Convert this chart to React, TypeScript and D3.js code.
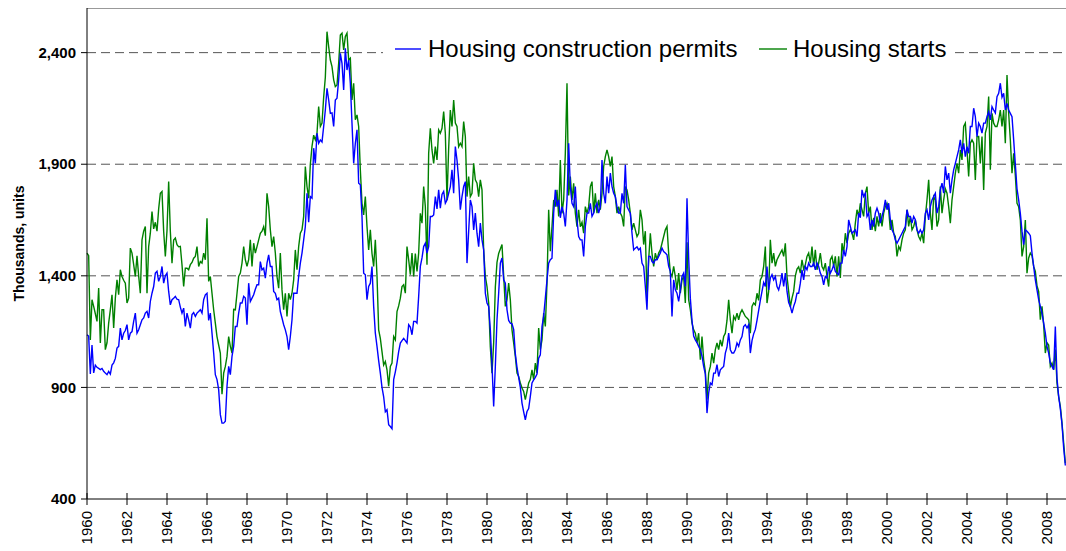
import React from 'react';
import * as d3 from 'd3';

// Monthly values, Jan 1960 .. Dec 2008, thousands of units (SAAR)
const permits: number[] = [
  1136, 1130, 960, 1090, 965, 1000, 990, 985, 980, 985, 972, 964, // 1960
  957, 972, 960, 1000, 1010, 1030, 1076, 1084, 1166, 1113, 1143, 1155,
  1181, 1113, 1143, 1150, 1196, 1233, 1143, 1158, 1181, 1203, 1211, 1233,
  1241, 1211, 1285, 1322, 1352, 1412, 1420, 1375, 1397, 1442, 1367, 1400,
  1412, 1330, 1270, 1293, 1300, 1308, 1295, 1293, 1260, 1233, 1255, 1173,
  1233, 1203, 1166, 1226, 1235, 1218, 1233, 1240, 1248, 1233, 1293, 1315, // 1965
  1322, 1200, 1233, 1143, 1054, 957, 935, 890, 778, 740, 740, 748,
  905, 994, 957, 1039, 1084, 1173, 1173, 1233, 1278, 1278, 1308, 1300,
  1181, 1367, 1285, 1300, 1315, 1340, 1360, 1360, 1464, 1427, 1434, 1390,
  1457, 1494, 1442, 1442, 1330, 1322, 1293, 1300, 1240, 1211, 1181, 1158,
  1128, 1069, 1128, 1203, 1322, 1322, 1322, 1397, 1457, 1502, 1561, 1621, // 1970
  1770, 1640, 1755, 1748, 1972, 1904, 2039, 1994, 2009, 2000, 2069, 2143,
  2240, 2188, 2128, 2130, 2069, 2188, 2196, 2278, 2397, 2352, 2233, 2419,
  2322, 2367, 2263, 2084, 1904, 1994, 2054, 1815, 1808, 1666, 1412, 1405,
  1293, 1352, 1367, 1442, 1263, 1143, 1084, 1020, 964, 900, 858, 791,
  800, 733, 725, 715, 935, 970, 1010, 1060, 1099, 1110, 1120, 1110, // 1975
  1099, 1181, 1170, 1136, 1196, 1196, 1188, 1308, 1442, 1480, 1531, 1546,
  1502, 1531, 1666, 1666, 1673, 1755, 1700, 1785, 1703, 1765, 1778, 1725,
  1740, 1770, 1800, 1875, 1770, 1979, 1919, 1830, 1696, 1755, 1800, 1822,
  1457, 1600, 1740, 1710, 1606, 1681, 1591, 1531, 1636, 1561, 1517, 1322,
  1278, 1263, 1158, 1000, 815, 994, 1203, 1322, 1457, 1480, 1382, 1367, // 1980
  1248, 1200, 1188, 1185, 1160, 1050, 990, 945, 900, 830, 790, 755,
  792, 805, 860, 920, 934, 945, 960, 1031, 1046, 1173, 1220, 1300,
  1382, 1457, 1472, 1479, 1681, 1785, 1710, 1740, 1660, 1710, 1681, 1621,
  1740, 1994, 1800, 1725, 1710, 1800, 1650, 1576, 1561, 1561, 1487, 1621,
  1681, 1681, 1725, 1666, 1681, 1710, 1725, 1681, 1710, 1919, 1770, 1725, // 1985
  1845, 1770, 1860, 1800, 1770, 1755, 1710, 1681, 1681, 1770, 1725, 1897,
  1710, 1695, 1681, 1591, 1516, 1524, 1530, 1516, 1524, 1457, 1442, 1352,
  1248, 1487, 1487, 1464, 1457, 1472, 1472, 1487, 1502, 1524, 1509, 1502,
  1494, 1442, 1420, 1218, 1382, 1337, 1322, 1285, 1337, 1397, 1412, 1352,
  1748, 1480, 1300, 1200, 1130, 1113, 1100, 1084, 1070, 1040, 994, 960, // 1990
  785, 875, 920, 912, 964, 964, 1002, 949, 979, 987, 994, 1054,
  1080, 1143, 1069, 1054, 1054, 1069, 1099, 1084, 1113, 1128, 1173, 1181,
  1166, 1181, 1054, 1110, 1140, 1160, 1200, 1245, 1290, 1330, 1370, 1352,
  1442, 1337, 1390, 1405, 1382, 1397, 1352, 1337, 1367, 1412, 1352, 1412,
  1330, 1280, 1263, 1233, 1263, 1285, 1322, 1322, 1367, 1427, 1382, 1442, // 1995
  1427, 1457, 1442, 1442, 1457, 1427, 1457, 1442, 1412, 1397, 1360, 1397,
  1390, 1442, 1412, 1427, 1449, 1420, 1412, 1405, 1457, 1457, 1516, 1487,
  1531, 1651, 1621, 1591, 1599, 1606, 1576, 1681, 1660, 1785, 1755, 1770,
  1666, 1681, 1606, 1651, 1621, 1681, 1703, 1681, 1636, 1666, 1696, 1740,
  1696, 1725, 1651, 1606, 1591, 1561, 1546, 1561, 1576, 1591, 1606, 1621, // 2000
  1696, 1666, 1666, 1636, 1666, 1651, 1606, 1591, 1606, 1591, 1606, 1681,
  1696, 1651, 1710, 1740, 1755, 1770, 1681, 1710, 1785, 1815, 1770, 1890,
  1830, 1860, 1770, 1830, 1875, 1904, 1934, 1964, 2009, 1949, 1994, 1934,
  1979, 1949, 2069, 2069, 2151, 2113, 2024, 2084, 2069, 2039, 2084, 2084,
  2113, 2135, 2099, 2158, 2143, 2130, 2203, 2218, 2263, 2200, 2218, 2143, // 2005
  2173, 2143, 2128, 2113, 2009, 1900, 1790, 1740, 1680, 1600, 1540, 1606,
  1600, 1591, 1580, 1502, 1442, 1382, 1337, 1293, 1263, 1233, 1188, 1143,
  1084, 1054, 1009, 994, 979, 1173, 940, 860, 805, 735, 630, 550,
];

const starts: number[] = [
  1502, 1490, 1113, 1293, 1263, 1230, 1196, 1345, 1099, 1248, 1248, 1069, // 1960
  1100, 1188, 1248, 1315, 1166, 1300, 1382, 1315, 1427, 1397, 1380, 1367,
  1278, 1300, 1524, 1502, 1450, 1397, 1490, 1400, 1322, 1561, 1600, 1621,
  1322, 1531, 1591, 1688, 1610, 1640, 1600, 1700, 1770, 1778, 1600, 1487,
  1603, 1822, 1600, 1457, 1560, 1569, 1540, 1530, 1532, 1449, 1352, 1434,
  1434, 1427, 1450, 1460, 1479, 1487, 1531, 1442, 1464, 1457, 1502, 1472, // 1965
  1658, 1375, 1397, 1322, 1248, 1188, 1128, 1090, 1054, 870, 964, 994,
  1039, 1128, 1084, 1054, 1250, 1248, 1322, 1397, 1412, 1457, 1531, 1472,
  1442, 1472, 1561, 1442, 1546, 1502, 1531, 1561, 1590, 1600, 1620, 1580,
  1770, 1710, 1606, 1531, 1576, 1502, 1397, 1345, 1502, 1337, 1248, 1322,
  1218, 1322, 1293, 1322, 1382, 1516, 1427, 1531, 1591, 1606, 1666, 1890, // 1970
  1800, 1748, 1900, 1980, 2030, 2009, 2039, 2158, 2069, 2084, 2200, 2290,
  2494, 2427, 2367, 2337, 2278, 2248, 2255, 2352, 2479, 2487, 2412, 2472,
  2487, 2367, 2375, 2188, 2263, 2099, 2121, 2069, 1875, 1725, 1673, 1755,
  1621, 1516, 1606, 1500, 1442, 1561, 1400, 1158, 1120, 1060, 1000, 1016,
  979, 905, 994, 1009, 1128, 1113, 1240, 1265, 1300, 1352, 1360, 1322, // 1975
  1531, 1472, 1405, 1502, 1397, 1500, 1420, 1502, 1680, 1636, 1800, 1710,
  1450, 1949, 2061, 1964, 1904, 1979, 1919, 2054, 2039, 2061, 2136, 2039,
  1740, 1972, 2143, 2069, 2188, 2084, 2069, 1979, 1994, 1979, 2091, 2024,
  1755, 1845, 1755, 1770, 1904, 1830, 1815, 1755, 1830, 1785, 1516, 1397,
  1352, 1278, 1080, 964, 1100, 1350, 1460, 1500, 1520, 1540, 1400, 1263, // 1980
  1293, 1367, 1293, 1158, 1099, 1039, 964, 949, 920, 897, 882, 845,
  882, 920, 935, 979, 935, 1009, 964, 1166, 1069, 1113, 1233, 1173,
  1367, 1696, 1510, 1621, 1740, 1710, 1785, 1666, 1919, 1680, 1740, 1950,
  2263, 1760, 1845, 1740, 1815, 1681, 1620, 1696, 1620, 1640, 1591, 1710,
  1681, 1710, 1800, 1822, 1681, 1770, 1681, 1740, 1696, 1770, 1890, 1934, // 1985
  1964, 1934, 1890, 1934, 1800, 1755, 1681, 1710, 1681, 1666, 1621, 1800,
  1785, 1740, 1681, 1606, 1636, 1606, 1576, 1591, 1696, 1651, 1540, 1600,
  1293, 1472, 1591, 1500, 1442, 1502, 1472, 1502, 1516, 1546, 1576, 1606,
  1621, 1500, 1412, 1397, 1442, 1397, 1337, 1412, 1322, 1382, 1397, 1278,
  1550, 1293, 1248, 1188, 1158, 1143, 1099, 1143, 1024, 1128, 1024, 972, // 1990
  845, 964, 994, 1054, 1009, 1069, 1099, 1069, 1113, 1084, 1128, 1143,
  1200, 1293, 1203, 1143, 1218, 1203, 1233, 1203, 1233, 1248, 1233, 1218,
  1211, 1203, 1143, 1263, 1278, 1270, 1322, 1290, 1382, 1397, 1442, 1531,
  1278, 1330, 1561, 1457, 1502, 1442, 1472, 1487, 1502, 1516, 1487, 1546,
  1397, 1330, 1260, 1300, 1330, 1400, 1430, 1440, 1412, 1472, 1430, 1450, // 1995
  1487, 1502, 1457, 1531, 1442, 1516, 1427, 1457, 1502, 1442, 1427, 1457,
  1397, 1352, 1472, 1487, 1442, 1487, 1397, 1487, 1390, 1546, 1502, 1591,
  1546, 1591, 1606, 1591, 1561, 1636, 1696, 1666, 1725, 1696, 1666, 1770,
  1800, 1681, 1710, 1606, 1660, 1600, 1666, 1621, 1681, 1621, 1681, 1710,
  1725, 1696, 1606, 1651, 1591, 1576, 1487, 1531, 1516, 1561, 1591, 1606, // 2000
  1696, 1621, 1666, 1606, 1621, 1651, 1606, 1576, 1561, 1591, 1546, 1666,
  1740, 1830, 1681, 1606, 1755, 1740, 1621, 1651, 1800, 1681, 1740, 1790,
  1770, 1710, 1636, 1740, 1800, 1860, 1904, 1860, 1964, 1919, 2069, 2084,
  1964, 1845, 1994, 2009, 1994, 1830, 2024, 2024, 1904, 2024, 1785, 2040,
  2069, 2203, 1875, 2128, 2084, 2069, 2069, 2099, 2143, 2069, 2143, 1994, // 2005
  2300, 2128, 2009, 1860, 1949, 1850, 1725, 1710, 1651, 1487, 1531, 1650,
  1412, 1480, 1502, 1490, 1442, 1420, 1355, 1330, 1203, 1263, 1180, 1054,
  1100, 1090, 994, 1009, 979, 1070, 920, 858, 815, 740, 651, 560,
];

const yTicks = [400, 900, 1400, 1900, 2400];
const xTickLabels = [
  '1960', '1962', '1964', '1966', '1968', '1970', '1972', '1974', '1976',
  '1978', '1980', '1982', '1984', '1986', '1988', '1990', '1992', '1994',
  '1996', '1998', '2000', '2002', '2004', '2006', '2008',
];
const seriesNames = ['Housing construction permits', 'Housing starts'];
const seriesColors = ['#0000ff', '#008000'];

const font = 'Arial, "Liberation Sans", Helvetica, sans-serif';

export default function App() {
  const width = 1066;
  const height = 551;
  const left = 87;
  const right = 1066;
  const top = 8;
  const bottom = 499;

  const x = d3.scaleLinear().domain([1960, 2009]).range([left, 1067]);
  const y = d3.scaleLinear().domain([400, 2600]).range([bottom, top]);

  const line = d3
    .line<number>()
    .x((_, i) => x(1960 + i / 12))
    .y((d) => y(d));

  const fmt = d3.format(',');

  return (
    <svg
      width={width}
      height={height}
      style={{ position: 'absolute', left: 0, top: 0, background: '#fff' }}
      fontFamily={font}
    >
      {/* grid */}
      {yTicks.slice(1).map((t) => (
        <line
          key={t}
          x1={left}
          x2={right}
          y1={y(t)}
          y2={y(t)}
          stroke="#555"
          strokeWidth={1}
          strokeDasharray="9,5"
        />
      ))}
      {/* top frame */}
      <line x1={left} x2={right} y1={top + 0.5} y2={top + 0.5} stroke="#999" />

      {/* series */}
      <path d={line(starts) || ''} fill="none" stroke={seriesColors[1]} strokeWidth={1.4} />
      <path d={line(permits) || ''} fill="none" stroke={seriesColors[0]} strokeWidth={1.4} />
      <path d={line(starts.slice(0, 0)) || ''} fill="none" />

      {/* y axis */}
      <line x1={left} x2={left} y1={top} y2={bottom} stroke="#000" />
      {yTicks.map((t) => (
        <g key={t} transform={`translate(0,${y(t)})`}>
          <line x1={left - 6} x2={left} stroke="#000" />
          <text x={76} dy="0.35em" textAnchor="end" fontSize={15} fontWeight="bold">
            {fmt(t)}
          </text>
        </g>
      ))}
      <text
        transform={`translate(19,${(top + bottom) / 2 - 10}) rotate(-90)`}
        textAnchor="middle"
        dy="0.35em"
        fontSize={14}
        fontWeight="bold"
      >
        Thousands, units
      </text>

      {/* x axis */}
      <line x1={left} x2={right} y1={bottom} y2={bottom} stroke="#000" />
      {xTickLabels.map((lab) => {
        const px = x(+lab);
        return (
          <g key={lab} transform={`translate(${px},0)`}>
            <line y1={bottom - 6} y2={bottom + 6} stroke="#000" />
            <text
              transform={`translate(0,${bottom + 12}) rotate(-90)`}
              textAnchor="end"
              dy="0.35em"
              fontSize={15}
            >
              {lab}
            </text>
          </g>
        );
      })}

      {/* legend */}
      <rect x={383} y={30} width={572} height={38} fill="#fff" />
      <line x1={395} x2={421} y1={49} y2={49} stroke={seriesColors[0]} strokeWidth={1.4} />
      <text x={428} y={57} fontSize={24}>
        {seriesNames[0]}
      </text>
      <line x1={759} x2={787} y1={49} y2={49} stroke={seriesColors[1]} strokeWidth={1.4} />
      <text x={793} y={57} fontSize={24}>
        {seriesNames[1]}
      </text>
    </svg>
  );
}
